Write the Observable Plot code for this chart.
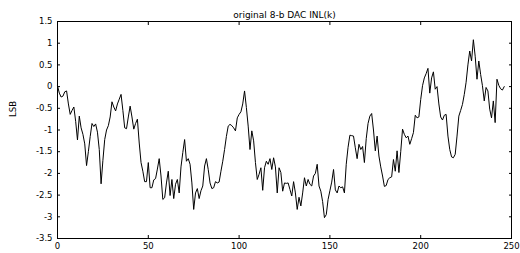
<!DOCTYPE html>
<html>
<head>
<meta charset="utf-8">
<script src="https://cdn.jsdelivr.net/npm/d3@7"></script>
<script src="https://cdn.jsdelivr.net/npm/@observablehq/plot@0.6"></script>
<style>
  html, body { margin: 0; padding: 0; background: white; }
</style>
</head>
<body>
<div id="chart"></div>
<script>
const title = "original 8-b DAC INL(k)";
const yLabel = "LSB";
const xTicks = [0, 50, 100, 150, 200, 250];
const yTicks = [-3.5, -3, -2.5, -2, -1.5, -1, -0.5, 0, 0.5, 1, 1.5];

// INL(k) values, k = 0 .. 246
const inl = [
  0.02, -0.15, -0.24, -0.22, -0.12, -0.1, -0.4, -0.64, -0.55, -0.47,
  -0.8, -1.23, -0.68, -0.95, -1.1, -1.32, -1.82, -1.5, -1.15, -0.85,
  -0.92, -0.86, -1.05, -1.45, -2.24, -1.7, -1.22, -1.0, -0.9, -0.7,
  -0.35, -0.47, -0.56, -0.4, -0.29, -0.18, -0.55, -0.95, -0.97, -0.7,
  -0.45, -0.7, -0.98, -0.85, -0.75, -1.3, -1.75, -1.95, -2.19, -2.19,
  -1.75, -2.33, -2.33, -2.15, -2.12, -1.9, -1.66, -2.06, -2.6, -2.56,
  -2.22, -1.95, -2.51, -2.14, -2.58, -2.25, -2.14, -2.45, -1.85, -1.52,
  -1.22, -1.72, -1.66, -1.79, -2.22, -2.83, -2.45, -2.35, -2.58, -2.4,
  -2.29, -1.83, -1.66, -1.91, -2.22, -2.35, -2.33, -2.19, -2.22, -2.2,
  -1.95, -1.72, -1.45, -1.15, -0.91, -0.87, -0.9, -0.95, -1.02, -0.72,
  -0.64, -0.58, -0.4, -0.1, -0.48, -0.91, -1.45, -1.02, -1.25, -1.75,
  -2.14, -2.02, -1.87, -2.39, -1.87, -1.72, -1.79, -1.66, -1.91, -1.64,
  -1.85, -2.45, -1.87, -1.98, -2.41, -2.22, -2.23, -2.22, -2.37, -2.52,
  -2.19, -2.45, -2.83, -2.55, -2.75, -2.45, -2.1, -2.29, -2.14, -2.25,
  -2.29, -2.06, -2.0, -1.79, -2.29, -2.41, -2.65, -3.02, -2.95, -2.6,
  -2.4, -2.2, -1.91, -2.38, -2.45, -2.29, -2.33, -2.31, -2.45, -1.79,
  -1.4, -1.12, -1.13, -1.14, -1.41, -1.66, -1.33, -1.45, -1.38, -1.75,
  -1.2, -0.85, -0.68, -0.62, -1.0, -1.48, -1.14, -1.6, -1.85, -2.06,
  -2.3, -2.28, -2.14, -2.1, -2.08, -1.68, -1.95, -1.48, -1.98, -1.5,
  -0.98, -1.1, -1.18, -1.14, -1.33, -1.2, -1.06, -0.66, -0.72, -0.7,
  -0.3, 0.02, 0.2, 0.3, 0.42, -0.15, 0.2, 0.34, -0.06, 0.0,
  -0.4, -0.7, -0.77, -0.66, -0.64, -1.14, -1.45, -1.62, -1.64, -1.56,
  -1.14, -0.68, -0.55, -0.41, -0.18, 0.1, 0.5, 0.82, 0.59, 1.08,
  0.7, 0.17, 0.59, 0.28, 0.02, -0.33, -0.02, -0.1, -0.52, -0.72,
  -0.33, -0.83, 0.17, 0.03, -0.05, -0.08, 0.0
];
const ks = inl.map((_, i) => i);
const data = ks.map((k, i) => ({k, v: inl[i]}));

const chart = Plot.plot({
  width: 520,
  height: 253,
  marginLeft: 57,
  marginRight: 9,
  marginTop: 21,
  marginBottom: 15,
  style: {fontFamily: "DejaVu Sans", fontSize: "8.5px", background: "white", color: "black"},
  x: {domain: [0, 250], label: null},
  y: {domain: [-3.5, 1.5], label: null},
  marks: [
    Plot.line(data, {x: "k", y: "v", stroke: "black", strokeWidth: 1}),
    Plot.axisX({anchor: "bottom", ticks: xTicks, tickSize: -3, tickPadding: 7, label: null, tickFormat: d => String(d)}),
    Plot.axisX({anchor: "top", ticks: xTicks, tickSize: -3, label: null, tickFormat: () => ""}),
    Plot.axisY({anchor: "left", ticks: yTicks, tickSize: -3, tickPadding: 8, label: null, tickFormat: d => String(d)}),
    Plot.axisY({anchor: "right", ticks: yTicks, tickSize: -3, label: null, tickFormat: () => ""}),
    Plot.frame({stroke: "black", strokeWidth: 1}),
    Plot.text([title], {frameAnchor: "top", lineAnchor: "bottom", dy: -4, fontSize: 9}),
    Plot.text([yLabel], {frameAnchor: "left", dx: -44, dy: -13, rotate: -90, fontSize: 8.5})
  ]
});
document.getElementById("chart").appendChild(chart);
</script>
</body>
</html>
